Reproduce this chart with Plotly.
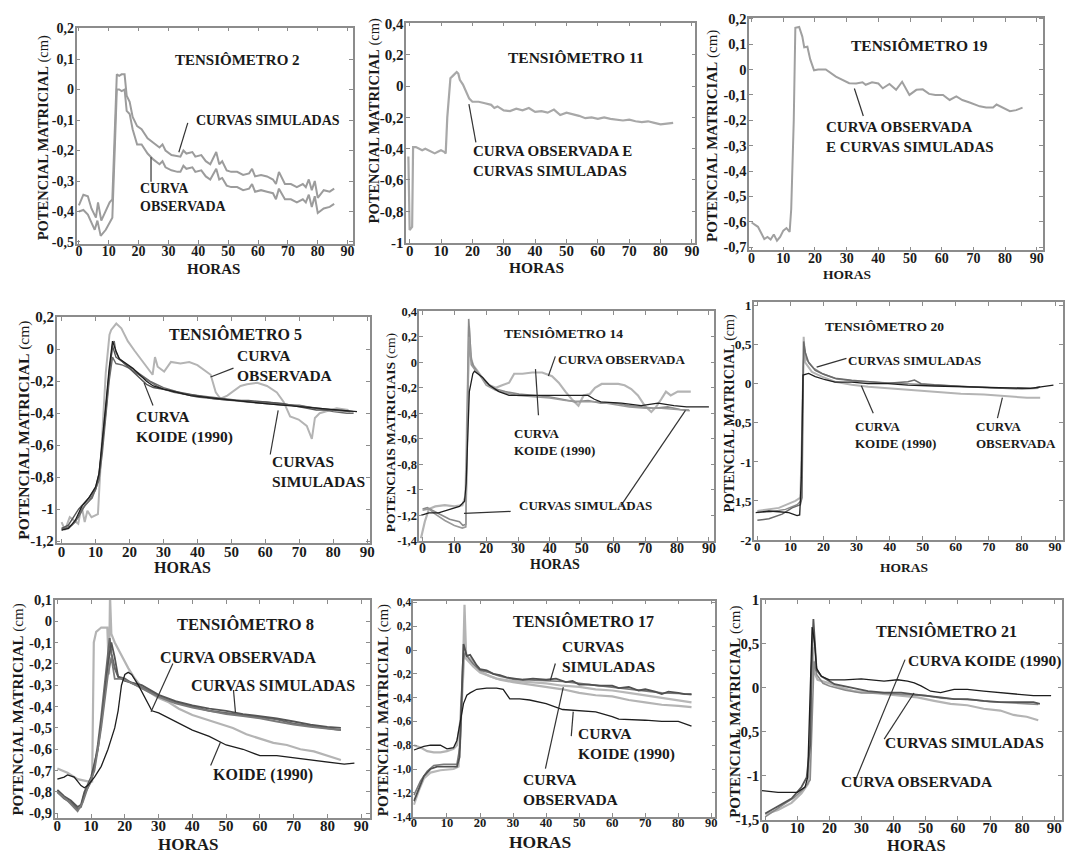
import plotly.graph_objects as go

W, H = 1070, 858
FONT = "Liberation Serif"
TXT = "#1a1a1a"

# ---------------- data (hours, potential) ----------------
X_TICKS = [0, 10, 20, 30, 40, 50, 60, 70, 80, 90]
X_LABELS = ["0", "10", "20", "30", "40", "50", "60", "70", "80", "90"]

# Tensiometro 2
T2_Y_TICKS = [0.2, 0.1, 0, -0.1, -0.2, -0.3, -0.4, -0.5]
T2_Y_LABELS = ["0,2", "0,1", "0", "-0,1", "-0,2", "-0,3", "-0,4", "-0,5"]
T2_SIM = [(0,-0.38),(1.5,-0.345),(3,-0.35),(4.2,-0.39),(5.7,-0.42),(6.4,-0.37),(7.5,-0.43),(9,-0.40),
          (10.3,-0.37),(11.2,-0.36),(12,-0.15),(12.7,0.05),(13.5,0.045),(14.3,0.05),(15.3,0.05),(16,-0.02),
          (17,-0.04),(18,-0.09),(19.5,-0.12),(21,-0.13),(23,-0.16),(25,-0.175),(27,-0.19),(28,-0.18),(29,-0.2),
          (31,-0.215),(33,-0.22),(34,-0.22),(35,-0.2),(36,-0.21),(38,-0.205),(39,-0.22),(41,-0.215),(42.5,-0.235),
          (44,-0.245),(46,-0.205),(47,-0.245),(48,-0.235),(49.5,-0.265),(51,-0.27),(53,-0.27),(55,-0.28),
          (57,-0.275),(58,-0.26),(59,-0.285),(61,-0.28),(63,-0.285),(65,-0.295),(66,-0.31),(67,-0.27),(69,-0.31),
          (71,-0.31),(73,-0.32),(75,-0.31),(76,-0.32),(77,-0.295),(78,-0.33),(79,-0.3),(80,-0.355),(82,-0.33),
          (84,-0.335),(85.5,-0.325)]
T2_OBS = [(0,-0.40),(1.5,-0.395),(3,-0.41),(4.5,-0.44),(5.3,-0.46),(6.2,-0.43),(7.3,-0.48),(9,-0.46),
          (10.5,-0.43),(11.2,-0.42),(12,-0.2),(12.7,0.0),(13.5,0.0),(14.3,-0.005),(15.3,0.0),(16,-0.07),(17,-0.08),
          (18,-0.13),(19.5,-0.18),(21,-0.18),(23,-0.21),(25,-0.23),(27,-0.245),(28,-0.235),(29,-0.255),(31,-0.265),
          (33,-0.27),(34,-0.27),(35,-0.25),(36,-0.26),(38,-0.255),(39,-0.27),(41,-0.265),(42.5,-0.285),(44,-0.295),
          (46,-0.26),(47,-0.295),(48,-0.29),(49.5,-0.315),(51,-0.32),(53,-0.32),(55,-0.33),(57,-0.325),(58,-0.31),
          (59,-0.335),(61,-0.33),(63,-0.335),(65,-0.34),(66,-0.36),(67,-0.325),(69,-0.36),(71,-0.36),(73,-0.37),
          (75,-0.36),(76,-0.37),(77,-0.345),(78,-0.385),(79,-0.35),(80,-0.405),(82,-0.39),(84,-0.385),(85.5,-0.375)]

# Tensiometro 11
T11_Y_TICKS = [0.4, 0.2, 0, -0.2, -0.4, -0.6, -0.8, -1]
T11_Y_LABELS = ["0,4", "0,2", "0", "-0,2", "-0,4", "-0,6", "-0,8", "-1"]
T11_OBS = [(-0.4,-0.45),(0,-0.92),(0.8,-0.90),(1.1,-0.39),(2,-0.39),(3,-0.40),(4,-0.41),(5,-0.40),(6,-0.41),
           (7,-0.42),(8,-0.43),(9,-0.42),(10,-0.41),(11,-0.42),(11.5,-0.43),(12,-0.2),(13,0.05),(14,0.07),
           (15,0.09),(15.5,0.08),(16,0.04),(17,0.01),(18,-0.03),(19,-0.08),(20,-0.10),(22,-0.10),(24,-0.11),
           (26,-0.12),(27,-0.14),(28,-0.13),(30,-0.155),(32,-0.16),(34,-0.145),(36,-0.155),(38,-0.14),(40,-0.165),
           (42,-0.16),(44,-0.17),(46,-0.15),(48,-0.185),(50,-0.17),(52,-0.18),(54,-0.19),(56,-0.205),(58,-0.20),
           (60,-0.21),(62,-0.20),(64,-0.21),(66,-0.215),(68,-0.22),(70,-0.215),(72,-0.225),(74,-0.23),(76,-0.225),
           (78,-0.235),(80,-0.245),(82,-0.24),(84,-0.235)]

# Tensiometro 19
T19_Y_TICKS = [0.2, 0.1, 0, -0.1, -0.2, -0.3, -0.4, -0.5, -0.6, -0.7]
T19_Y_LABELS = ["0,2", "0,1", "0", "-0,1", "-0,2", "-0,3", "-0,4", "-0,5", "-0,6", "-0,7"]
T19_OBS = [(0,-0.603),(2,-0.62),(4,-0.668),(5,-0.66),(6,-0.67),(7,-0.65),(8,-0.675),(9,-0.66),(10,-0.635),
           (11,-0.625),(12,-0.64),(12.5,-0.55),(13.3,-0.2),(13.8,0.165),(15,0.168),(16,0.13),(16.6,0.088),
           (17.6,0.09),(18.5,0.04),(19.7,-0.003),(21,0.0),(23.4,0.0),(26.6,-0.028),(28.7,-0.04),(30.8,-0.054),
           (33,-0.055),(35,-0.05),(36,-0.06),(38,-0.05),(40,-0.055),(41.4,-0.074),(43.5,-0.057),(45.6,-0.08),
           (47.5,-0.048),(49.8,-0.1),(52,-0.08),(54,-0.078),(56,-0.096),(58,-0.1),(60.4,-0.1),(62.5,-0.12),
           (64.6,-0.106),(66.5,-0.12),(68.8,-0.13),(72,-0.145),(74,-0.15),(76.2,-0.15),(77.3,-0.138),(79.4,-0.15),
           (81.5,-0.164),(83.5,-0.16),(85.5,-0.15)]

# Tensiometro 5
T5_Y_TICKS = [0.2, 0, -0.2, -0.4, -0.6, -0.8, -1, -1.2]
T5_Y_LABELS = ["0,2", "0", "-0,2", "-0,4", "-0,6", "-0,8", "-1", "-1,2"]
T5_OBS = [(0,-1.08),(1,-1.13),(2.4,-1.05),(4.9,-1.09),(5.9,-0.98),(6.8,-1.08),(7.6,-1.01),(8.8,-1.05),
          (10.7,-1.03),(11.2,-0.86),(12.2,-0.45),(13,-0.15),(14.1,0.09),(14.6,0.12),(16.1,0.16),(17.6,0.13),
          (19.5,0.05),(21.5,-0.01),(24.4,-0.09),(26.8,-0.16),(27.5,-0.05),(28.3,-0.11),(30.2,-0.14),(32.2,-0.08),
          (35,-0.09),(37.6,-0.08),(40,-0.10),(42.4,-0.14),(43.9,-0.16),(45.4,-0.27),(46.8,-0.31),(48.8,-0.29),
          (50.7,-0.26),(52.7,-0.23),(54.6,-0.22),(57.6,-0.21),(60.5,-0.23),(63.4,-0.27),(65.4,-0.33),(67.3,-0.42),
          (69.8,-0.44),(72.2,-0.48),(73.7,-0.56),(74.6,-0.43),(76,-0.40),(79,-0.38),(81,-0.37),(84.5,-0.38)]
T5_SIM_A = [(0,-1.12),(2,-1.12),(4,-1.08),(6,-1.0),(8,-0.95),(10,-0.88),(11,-0.8),(12,-0.62),(13,-0.4),
            (14,-0.17),(15,0.03),(15.5,0.05),(16,-0.02),(17,-0.06),(18,-0.08),(20,-0.11),(22,-0.14),(24,-0.17),
            (26,-0.2),(28,-0.22),(30,-0.24),(33,-0.26),(36,-0.28),(40,-0.29),(44,-0.3),(48,-0.31),(52,-0.32),
            (56,-0.33),(60,-0.33),(64,-0.34),(68,-0.35),(72,-0.36),(76,-0.37),(80,-0.38),(84,-0.385),(86,-0.39)]
T5_SIM_B = [(0,-1.13),(3,-1.1),(5,-1.05),(7,-0.97),(9,-0.93),(11,-0.82),(12,-0.65),(13,-0.42),(14,-0.2),
            (15,-0.05),(16,-0.09),(18,-0.1),(20,-0.12),(22,-0.15),(25,-0.19),(28,-0.23),(30,-0.25),(33,-0.27),
            (36,-0.28),(40,-0.3),(45,-0.31),(50,-0.32),(55,-0.33),(60,-0.34),(65,-0.35),(70,-0.35),(75,-0.37),
            (80,-0.39),(84,-0.40),(86,-0.40)]
T5_SIM_C = [(0,-1.12),(2,-1.1),(5,-1.0),(8,-0.93),(10,-0.87),(11,-0.78),(12,-0.6),(13,-0.38),(14,-0.15),
            (15,0.02),(16,-0.05),(18,-0.08),(20,-0.12),(23,-0.18),(25,-0.22),(27,-0.24),(30,-0.25),(35,-0.27),
            (40,-0.29),(45,-0.31),(50,-0.32),(55,-0.32),(60,-0.33),(65,-0.34),(70,-0.36),(75,-0.38),(80,-0.38),
            (85,-0.39)]
T5_KOIDE = [(0,-1.13),(2,-1.12),(4,-1.07),(6,-0.98),(8,-0.93),(10,-0.86),(11,-0.78),(12,-0.58),(13,-0.35),
            (14,-0.12),(15,0.05),(16,-0.01),(17,-0.06),(19,-0.09),(21,-0.12),(23,-0.16),(25,-0.2),(27,-0.23),
            (30,-0.25),(34,-0.27),(38,-0.29),(42,-0.3),(46,-0.31),(50,-0.32),(55,-0.33),(60,-0.34),(65,-0.35),
            (70,-0.36),(75,-0.37),(80,-0.38),(84,-0.385),(87,-0.39)]

# Tensiometro 14
T14_Y_TICKS = [0.4, 0.2, 0, -0.2, -0.4, -0.6, -0.8, -1, -1.2, -1.4]
T14_Y_LABELS = ["0,4", "0,2", "0", "-0,2", "-0,4", "-0,6", "-0,8", "-1", "-1,2", "-1,4"]
T14_OBS = [(-0.5,-1.38),(0.7,-1.25),(2,-1.15),(4,-1.13),(7,-1.12),(10,-1.13),(12.5,-1.12),(13.5,-1.05),
           (14.2,-0.2),(14.6,0.28),(15.1,0.05),(15.8,-0.02),(17,-0.06),(19,-0.13),(21,-0.18),(23,-0.2),
           (25,-0.18),(27.2,-0.16),(28.8,-0.09),(31.4,-0.09),(34.5,-0.08),(37.6,-0.08),(40.7,-0.11),(42.8,-0.16),
           (44.9,-0.23),(46.9,-0.29),(49,-0.34),(50.6,-0.26),(52.5,-0.25),(54.2,-0.2),(56.3,-0.17),(58.4,-0.17),
           (61.5,-0.17),(63.5,-0.18),(65.6,-0.21),(67.7,-0.26),(69.8,-0.34),(71.9,-0.39),(73.4,-0.35),(75,-0.29),
           (76.5,-0.23),(78,-0.26),(80.2,-0.23),(82.2,-0.23),(84.3,-0.23)]
T14_SIM_A = [(0,-1.15),(1.5,-1.14),(3,-1.16),(5.4,-1.19),(8.5,-1.23),(11.6,-1.25),(12.7,-1.28),(13.6,-1.27),
             (14.1,-0.4),(14.5,0.34),(15.3,0.02),(16,-0.03),(17.3,-0.08),(20,-0.16),(23,-0.21),(26,-0.23),
             (30.3,-0.25),(35,-0.26),(39.7,-0.27),(43.8,-0.29),(48,-0.31),(52,-0.30),(56,-0.32),(60.4,-0.32),
             (64.6,-0.34),(68.7,-0.35),(72.9,-0.36),(77,-0.35),(81,-0.37),(83.8,-0.375)]
T14_SIM_B = [(0,-1.16),(2,-1.15),(4,-1.19),(7,-1.24),(10,-1.28),(12.5,-1.30),(13.6,-1.29),(14.1,-0.6),
             (14.6,0.2),(15.3,-0.02),(16.5,-0.06),(18,-0.1),(20,-0.18),(23,-0.22),(26,-0.24),(30,-0.26),
             (35,-0.27),(40,-0.28),(45,-0.3),(50,-0.31),(55,-0.31),(60,-0.33),(65,-0.35),(70,-0.36),(75,-0.36),
             (80,-0.37),(84,-0.38)]
T14_KOIDE = [(-0.5,-1.2),(2,-1.18),(5,-1.18),(8,-1.16),(11.6,-1.13),(13.2,-1.09),(13.7,-0.95),(14.7,-0.23),
             (15.8,-0.09),(16.3,-0.07),(18.9,-0.12),(21,-0.18),(24,-0.23),(27.2,-0.26),(30.3,-0.26),(35.5,-0.26),
             (41.7,-0.26),(48,-0.26),(52,-0.26),(54,-0.29),(56,-0.31),(62.5,-0.32),(68.7,-0.34),(74,-0.32),
             (79,-0.34),(83,-0.35),(90,-0.35)]

# Tensiometro 20
T20_Y_TICKS = [1, 0.5, 0, -0.5, -1, -1.5, -2]
T20_Y_LABELS = ["1", "0,5", "0", "-0,5", "-1", "-1,5", "-2"]
T20_OBS = [(0,-1.63),(6.5,-1.59),(11.5,-1.5),(13,-1.46),(13.6,-0.5),(14,0.6),(14.5,0.27),(16.5,0.15),
           (19.5,0.09),(23.5,0.025),(28.5,-0.015),(33.5,-0.04),(39.5,-0.06),(45.5,-0.08),(53.5,-0.1),
           (61.5,-0.13),(68.5,-0.14),(75.5,-0.16),(81.5,-0.18),(85.5,-0.18)]
T20_SIM_A = [(0,-1.75),(3.5,-1.73),(7.5,-1.67),(10.5,-1.59),(13,-1.55),(13.5,-1.46),(14,0.54),(14.5,0.4),
             (15.5,0.27),(17.5,0.17),(19.5,0.13),(23.5,0.07),(28.5,0.045),(33.5,0.025),(39.5,0.005),
             (45.5,0.025),(47.5,0.045),(49.5,0.0),(53.5,-0.015),(63.5,-0.04),(73.5,-0.06),(83.5,-0.06),(85.5,-0.04)]
T20_SIM_B = [(0,-1.65),(4,-1.64),(8.5,-1.61),(12,-1.55),(13.2,-1.5),(13.8,0.2),(14.2,0.45),(15,0.3),
             (17,0.2),(20,0.12),(24,0.06),(30,0.03),(40,0.01),(50,-0.01),(60,-0.03),(70,-0.05),(80,-0.07),
             (85,-0.06)]
T20_KOIDE = [(-0.5,-1.65),(3.5,-1.63),(6.5,-1.64),(9.5,-1.65),(12,-1.69),(12.8,-1.68),(13.3,-1.2),
             (13.8,0.11),(15.5,0.13),(17.5,0.09),(20.5,0.05),(23.5,0.02),(28.5,0.02),(33.5,0.0),(39.5,0.0),
             (45.5,-0.02),(53.5,-0.03),(61.5,-0.04),(68.5,-0.05),(75.5,-0.06),(82.5,-0.06),(89.5,-0.02)]

# Tensiometro 8
T8_Y_TICKS = [0.1, 0, -0.1, -0.2, -0.3, -0.4, -0.5, -0.6, -0.7, -0.8, -0.9]
T8_Y_LABELS = ["0,1", "0", "-0,1", "-0,2", "-0,3", "-0,4", "-0,5", "-0,6", "-0,7", "-0,8", "-0,9"]
T8_OBS = [(0,-0.69),(3,-0.71),(6,-0.74),(9,-0.75),(10.3,-0.75),(10.8,-0.1),(11.5,-0.05),(13,-0.03),
          (14.8,-0.03),(15.3,-0.25),(15.6,0.12),(16,-0.06),(17,-0.1),(19,-0.16),(21,-0.22),(23,-0.27),
          (25,-0.31),(28,-0.34),(30,-0.36),(33,-0.38),(36,-0.41),(40,-0.44),(44,-0.46),(48,-0.48),(52,-0.5),
          (56,-0.53),(60,-0.55),(64,-0.57),(68,-0.58),(72,-0.6),(76,-0.61),(80,-0.63),(84,-0.65)]
T8_SIM_A = [(0,-0.8),(2,-0.83),(4,-0.85),(6,-0.88),(7,-0.87),(8,-0.81),(9,-0.78),(10,-0.75),(11,-0.68),
            (12,-0.58),(13,-0.45),(14,-0.3),(15,-0.15),(15.5,-0.08),(16,-0.15),(17,-0.22),(18,-0.26),(20,-0.27),
            (22,-0.29),(25,-0.31),(30,-0.35),(35,-0.38),(40,-0.4),(45,-0.42),(50,-0.43),(55,-0.44),(60,-0.45),
            (65,-0.46),(70,-0.48),(75,-0.49),(80,-0.5),(84,-0.51)]
T8_SIM_B = [(0,-0.79),(2,-0.82),(4,-0.84),(6,-0.87),(7,-0.86),(8,-0.8),(10,-0.73),(12,-0.6),(14,-0.35),
            (15,-0.2),(16,-0.1),(17,-0.17),(18,-0.26),(20,-0.28),(25,-0.3),(30,-0.345),(35,-0.375),(40,-0.395),
            (45,-0.41),(50,-0.42),(55,-0.435),(60,-0.445),(65,-0.455),(70,-0.47),(75,-0.485),(80,-0.495),(84,-0.5)]
T8_SIM_C = [(0,-0.8),(3,-0.84),(6,-0.89),(7.5,-0.85),(9,-0.78),(11,-0.7),(13,-0.5),(15,-0.25),(16,-0.17),
            (17,-0.27),(19,-0.27),(22,-0.29),(25,-0.315),(30,-0.355),(35,-0.385),(40,-0.405),(45,-0.42),
            (50,-0.435),(55,-0.445),(60,-0.455),(65,-0.47),(70,-0.485),(75,-0.495),(80,-0.505),(84,-0.51)]
T8_KOIDE = [(0,-0.74),(2,-0.73),(3,-0.72),(5,-0.73),(7,-0.77),(8,-0.78),(9,-0.77),(11,-0.73),(13,-0.68),
            (15,-0.6),(17,-0.5),(18,-0.42),(19,-0.3),(20,-0.25),(21,-0.24),(22,-0.25),(24,-0.3),(26,-0.36),
            (28,-0.42),(30,-0.43),(35,-0.47),(40,-0.51),(45,-0.54),(50,-0.58),(55,-0.6),(60,-0.63),(65,-0.63),
            (70,-0.64),(75,-0.65),(80,-0.66),(85,-0.67),(88,-0.665)]

# Tensiometro 17
T17_Y_TICKS = [0.4, 0.2, 0, -0.2, -0.4, -0.6, -0.8, -1.0, -1.2, -1.4]
T17_Y_LABELS = ["0,4", "0,2", "0", "-0,2", "-0,4", "-0,6", "-0,8", "-1,0", "-1,2", "-1,4"]
T17_OBS = [(0,-0.80),(2,-0.82),(4,-0.85),(6,-0.86),(8,-0.86),(10,-0.85),(12,-0.83),(13,-0.8),(14,-0.6),
           (14.8,-0.2),(15.3,0.38),(15.8,-0.05),(17,-0.07),(18,-0.11),(20,-0.18),(23,-0.22),(26,-0.25),
           (30,-0.27),(35,-0.29),(40,-0.31),(45,-0.33),(50,-0.36),(55,-0.38),(60,-0.39),(65,-0.42),(70,-0.44),
           (75,-0.46),(80,-0.47),(84,-0.48)]
T17_SIM_A = [(0,-1.27),(1,-1.2),(2,-1.12),(3,-1.06),(5,-1.0),(7,-0.98),(10,-0.98),(13,-0.98),(13.8,-0.9),
             (14.5,-0.3),(15,0.05),(15.5,0.0),(16,-0.05),(17,-0.04),(18,-0.09),(19,-0.13),(20,-0.16),(22,-0.17),
             (24,-0.2),(26,-0.21),(28,-0.23),(30,-0.24),(33,-0.25),(36,-0.24),(40,-0.25),(43,-0.24),(46,-0.27),
             (48,-0.26),(50,-0.29),(53,-0.29),(56,-0.3),(60,-0.3),(62,-0.32),(65,-0.31),(68,-0.34),(70,-0.33),
             (73,-0.35),(75,-0.37),(77,-0.35),(80,-0.36),(82,-0.37),(84,-0.37)]
T17_SIM_B = [(0,-1.22),(2,-1.1),(4,-1.02),(6,-0.97),(9,-0.96),(13,-0.96),(14,-0.8),(14.8,-0.1),(15.5,-0.02),
             (16.5,-0.07),(18,-0.12),(20,-0.17),(23,-0.19),(26,-0.22),(30,-0.245),(35,-0.25),(40,-0.255),
             (45,-0.265),(50,-0.28),(55,-0.295),(60,-0.31),(65,-0.325),(70,-0.34),(75,-0.36),(80,-0.365),(84,-0.375)]
T17_SIM_C = [(0,-1.3),(1.5,-1.18),(3,-1.08),(5,-1.03),(8,-1.01),(12,-1.0),(13.5,-0.98),(14.5,-0.4),
             (15.2,-0.05),(16,-0.08),(18,-0.14),(20,-0.19),(25,-0.24),(30,-0.26),(35,-0.27),(40,-0.28),
             (45,-0.3),(50,-0.31),(55,-0.33),(60,-0.34),(65,-0.36),(70,-0.38),(75,-0.4),(80,-0.42),(84,-0.44)]
T17_KOIDE = [(0,-0.84),(3,-0.81),(5,-0.8),(8,-0.8),(10,-0.83),(12,-0.82),(13,-0.76),(14,-0.6),(15,-0.45),
             (16,-0.38),(17,-0.36),(19,-0.33),(22,-0.32),(25,-0.32),(27,-0.33),(29,-0.41),(32,-0.41),(35,-0.42),
             (40,-0.45),(45,-0.5),(50,-0.51),(55,-0.52),(60,-0.56),(62,-0.58),(70,-0.59),(75,-0.6),(80,-0.6),
             (84,-0.64)]

# Tensiometro 21
T21_Y_TICKS = [1, 0.5, 0, -0.5, -1, -1.5]
T21_Y_LABELS = ["1", "0,5", "0", "-0,5", "-1", "-1,5"]
T21_OBS = [(0,-1.44),(4,-1.39),(8.2,-1.31),(11.3,-1.2),(13.4,-1.09),(14.2,-0.3),(14.7,0.46),(15.3,0.17),
           (16.3,0.09),(19.6,0.055),(23.7,0.0),(27.8,-0.04),(32,-0.055),(37,-0.075),(42.3,-0.09),(47.4,-0.11),
           (52.6,-0.15),(57.7,-0.185),(62.9,-0.2),(68,-0.24),(73.2,-0.26),(77.3,-0.31),(81.4,-0.33),(85,-0.37)]
T21_SIM = [(0,-1.43),(4,-1.35),(8.2,-1.26),(11.3,-1.13),(12.9,-1.02),(14,-0.65),(14.4,0.17),(15,0.78),
           (15.5,0.46),(16,0.2),(17.5,0.13),(19.5,0.09),(21.6,0.04),(26.8,0.0),(32,-0.04),(37,-0.055),
           (42.3,-0.055),(46.4,-0.075),(50.5,-0.09),(54.6,-0.11),(58.8,-0.13),(63,-0.13),(68,-0.15),
           (73.2,-0.165),(78.4,-0.165),(83.5,-0.165),(85.5,-0.185)]
T21_SIM_B = [(0,-1.47),(3,-1.4),(6,-1.32),(9,-1.25),(12,-1.15),(14,-1.05),(14.6,-0.3),(15.2,0.3),(16,0.15),
             (17,0.1),(18,0.05),(20,0.02),(25,-0.03),(30,-0.06),(35,-0.06),(40,-0.07),(45,-0.08),(50,-0.09),
             (55,-0.12),(60,-0.13),(65,-0.14),(70,-0.16),(75,-0.17),(80,-0.18),(85,-0.19)]
T21_KOIDE = [(-1,-1.17),(4,-1.19),(10,-1.19),(12.4,-1.13),(13.2,-1.02),(14,0.09),(14.6,0.69),(15.3,0.54),
             (16,0.22),(17.5,0.13),(20,0.09),(24.7,0.09),(29.9,0.1),(33,0.09),(37,0.075),(41.2,0.09),(44.3,0.075),
             (46.4,0.055),(48.5,0.02),(51.5,-0.04),(54.6,-0.055),(58.8,-0.02),(62.9,-0.02),(68,-0.04),
             (73.2,-0.055),(78.4,-0.075),(83.5,-0.09),(89,-0.09)]

# ---------------- styling / layout ----------------
C_OBS = "#b4b4b4"
C_SIM = "#6a6a6a"
C_KOI = "#1e1e1e"
C_MID = "#9c9c9c"
C_FRAME = "#8c8c8c"

PANELS = [
    dict(box=(75, 20, 353, 240), xr=[-0.8, 91.7], yr=[-0.505, 0.203], yt=T2_Y_TICKS, yl=T2_Y_LABELS, fy=14, fx=14,
         curves=[(T2_SIM, C_MID, 2.0), (T2_OBS, C_MID, 2.0)]),
    dict(box=(407, 15, 698, 239), xr=[-1.05, 91.1], yr=[-1.0, 0.405], yt=T11_Y_TICKS, yl=T11_Y_LABELS, fy=15, fx=15,
         curves=[(T11_OBS, "#a8a8a8", 2.2)]),
    dict(box=(752, 10, 1048, 247), xr=[-0.8, 92.0], yr=[-0.713, 0.204], yt=T19_Y_TICKS, yl=T19_Y_LABELS, fy=14.5, fx=14,
         curves=[(T19_OBS, "#a0a0a0", 2.0)]),
    dict(box=(55, 315, 370, 545), xr=[-1.46, 90.7], yr=[-1.21, 0.2], yt=T5_Y_TICKS, yl=T5_Y_LABELS, fy=15, fx=15,
         curves=[(T5_OBS, C_OBS, 2.0), (T5_SIM_A, C_SIM, 1.4), (T5_SIM_B, C_SIM, 1.4), (T5_SIM_C, "#555555", 1.4),
                 (T5_KOIDE, C_KOI, 1.3)]),
    dict(box=(420, 309, 717, 543), xr=[-1.04, 91.7], yr=[-1.4, 0.4], yt=T14_Y_TICKS, yl=T14_Y_LABELS, fy=12.5, fx=14,
         curves=[(T14_OBS, C_OBS, 2.2), (T14_SIM_A, "#8a8a8a", 1.6), (T14_SIM_B, "#9a9a9a", 1.6),
                 (T14_KOIDE, C_KOI, 1.3)]),
    dict(box=(757, 300, 1068, 542), xr=[-1.0, 92.4], yr=[-2.0, 1.04], yt=T20_Y_TICKS, yl=T20_Y_LABELS, fy=13.5, fx=13,
         curves=[(T20_OBS, C_OBS, 2.0), (T20_SIM_B, "#8a8a8a", 1.4), (T20_SIM_A, C_SIM, 1.5),
                 (T20_KOIDE, C_KOI, 1.3)]),
    dict(box=(53, 603, 370, 825), xr=[-0.8, 92.5], yr=[-0.92, 0.1], yt=T8_Y_TICKS, yl=T8_Y_LABELS, fy=14.5, fx=15,
         curves=[(T8_OBS, C_OBS, 2.2), (T8_SIM_A, C_SIM, 2.0), (T8_SIM_B, "#555555", 1.8), (T8_SIM_C, "#7a7a7a", 1.8),
                 (T8_KOIDE, C_KOI, 1.3)]),
    dict(box=(414, 604, 718, 824), xr=[-0.2, 91.2], yr=[-1.4, 0.414], yt=T17_Y_TICKS, yl=T17_Y_LABELS, fy=11.5, fx=12.5,
         curves=[(T17_SIM_C, "#b8b8b8", 2.2), (T17_OBS, C_OBS, 2.2), (T17_SIM_B, "#7a7a7a", 1.6),
                 (T17_SIM_A, "#505050", 1.8), (T17_KOIDE, C_KOI, 1.3)]),
    dict(box=(765, 603, 1067, 827), xr=[-1.0, 92.4], yr=[-1.5, 1.0], yt=T21_Y_TICKS, yl=T21_Y_LABELS, fy=15, fx=15,
         curves=[(T21_OBS, C_OBS, 2.2), (T21_SIM_B, "#8a8a8a", 1.6), (T21_SIM, "#555555", 1.8),
                 (T21_KOIDE, C_KOI, 1.3)]),
]

LABELS = [
    ("TENSIÔMETRO 2", 237, 53, 15, "center"),
    ("CURVAS SIMULADAS", 193, 115, 14, "left"),
    ("CURVA<br>OBSERVADA", 137, 193, 14, "left"),
    ("TENSIÔMETRO 11", 578, 50, 15.5, "center"),
    ("CURVA OBSERVADA E<br>CURVAS SIMULADAS", 472, 156, 15, "left"),
    ("TENSIÔMETRO 19", 924, 38, 15.5, "center"),
    ("CURVA OBSERVADA<br>E CURVAS SIMULADAS", 827, 131, 15, "left"),
    ("TENSIÔMETRO 5", 235, 332, 16, "center"),
    ("CURVA<br>OBSERVADA", 235, 364, 15.5, "left"),
    ("CURVA<br>KOIDE (1990)", 133, 427, 15.5, "left"),
    ("CURVAS<br>SIMULADAS", 270, 472, 15.5, "left"),
    ("TENSIÔMETRO 14", 565, 332, 13.5, "center"),
    ("CURVA OBSERVADA", 558, 358, 13, "left"),
    ("CURVA<br>KOIDE (1990)", 513, 442, 13, "left"),
    ("CURVAS SIMULADAS", 518, 507, 13, "left"),
    ("TENSIÔMETRO 20", 888, 325, 13.5, "center"),
    ("CURVAS SIMULADAS", 850, 359, 13, "left"),
    ("CURVA<br>KOIDE (1990)", 857, 435, 13, "left"),
    ("CURVA<br>OBSERVADA", 978, 435, 13, "left"),
    ("TENSIÔMETRO 8", 245, 628, 16.5, "center"),
    ("CURVA OBSERVADA", 157, 662, 16, "left"),
    ("CURVAS SIMULADAS", 188, 690, 16, "left"),
    ("KOIDE (1990)", 210, 782, 16, "left"),
    ("TENSIÔMETRO 17", 585, 625, 16, "center"),
    ("CURVAS<br>SIMULADAS", 562, 661, 15.5, "left"),
    ("CURVA<br>KOIDE (1990)", 578, 750, 15.5, "left"),
    ("CURVA<br>OBSERVADA", 522, 796, 15.5, "left"),
    ("TENSIÔMETRO 21", 951, 635, 16, "center"),
    ("CURVA KOIDE (1990)", 910, 665, 15.5, "left"),
    ("CURVAS SIMULADAS", 887, 748, 15.5, "left"),
    ("CURVA OBSERVADA", 843, 788, 15.5, "left"),
]
AXIS_TITLES_Y = [
    ("POTENCIAL MATRICIAL", 42, 132, 14.5), ("POTENCIAL MATRICIAL", 375, 115, 14.5),
    ("POTENCIAL MATRICIAL", 715, 130, 15), ("POTENCIAL MATRICIAL", 22, 430, 15.5),
    ("POTENCIAIS MATRICIAIS", 391, 433, 13.5), ("POTENCIAL MATRICIAL", 733, 413, 14),
    ("POTENCIAL MATRICIAL", 17, 715, 15), ("POTENCIAL MATRICIAL", 384, 715, 15),
    ("POTENCIAL MATRICIAL", 738, 717, 15),
]
AXIS_TITLES_X = [(213, 266, 15), (538, 264, 15.5), (851, 272, 13.5), (182, 570, 16), (557, 567, 14),
                 (908, 570, 13.5), (187, 852, 17), (542, 850, 17.5), (921, 853, 16.5)]
LEADERS = [
    (187, 117, 178, 147), (150, 152, 150, 177),
    (470, 98, 477, 137),
    (858, 82, 867, 110),
    (233, 367, 210, 376), (152, 405, 143, 382), (270, 455, 278, 410),
    (557, 355, 550, 375), (537, 368, 540, 415), (465, 515, 512, 513), (623, 507, 688, 410),
    (850, 357, 820, 366), (877, 413, 865, 385), (1002, 418, 1007, 397),
    (172, 668, 150, 717), (233, 695, 235, 718), (210, 772, 220, 748),
    (557, 668, 552, 685), (573, 742, 575, 717), (547, 775, 565, 692),
    (909, 664, 859, 787), (918, 698, 888, 745),
]


def px(x):
    return x / W


def py(y):
    return 1 - y / H


fig = go.Figure()
layout = dict(width=W, height=H, margin=dict(l=0, r=0, t=0, b=0), paper_bgcolor="white",
              plot_bgcolor="white", showlegend=False, font=dict(family=FONT, color=TXT))

for i, p in enumerate(PANELS, start=1):
    s = "" if i == 1 else str(i)
    L, T, R, B = p["box"]
    for pts, col, wid in p["curves"]:
        fig.add_trace(go.Scatter(x=[a for a, b in pts], y=[b for a, b in pts], mode="lines",
                                 line=dict(color=col, width=wid), xaxis="x" + s, yaxis="y" + s,
                                 hoverinfo="skip"))
    common = dict(showline=True, linecolor=C_FRAME, linewidth=1.5, mirror="ticks", ticks="inside",
                  ticklen=4, tickcolor=C_FRAME, tickwidth=1, showgrid=False, zeroline=False, fixedrange=True)
    layout["xaxis" + s] = dict(domain=[px(L), px(R)], range=p["xr"], anchor="y" + s, tickmode="array",
                               tickvals=X_TICKS, ticktext=["<b>" + t + "</b>" for t in X_LABELS],
                               ticklabelstandoff=-6,
                               tickfont=dict(family=FONT, size=p["fx"], color=TXT), **common)
    layout["yaxis" + s] = dict(domain=[py(B), py(T)], range=p["yr"], anchor="x" + s, tickmode="array",
                               tickvals=p["yt"], ticktext=["<b>" + t + "</b>" for t in p["yl"]],
                               ticklabelstandoff=-2,
                               tickfont=dict(family=FONT, size=p["fy"], color=TXT), **common)

ann = []
for text, x, y, size, anchor in LABELS:
    ann.append(dict(text="<b>" + text.replace("<br>", "</b><br><b>") + "</b>", x=px(x), y=py(y),
                    xref="paper", yref="paper", showarrow=False,
                    xanchor=anchor, yanchor="middle", align="left",
                    font=dict(family=FONT, size=size, color=TXT)))
for text, x, y, size in AXIS_TITLES_Y:
    ann.append(dict(text="<b>" + text + "</b> (cm)", x=px(x), y=py(y), xref="paper", yref="paper",
                    showarrow=False, textangle=-90, xanchor="center", yanchor="middle",
                    font=dict(family=FONT, size=size, color=TXT)))
for x, y, size in AXIS_TITLES_X:
    ann.append(dict(text="<b>HORAS</b>", x=px(x), y=py(y), xref="paper", yref="paper", showarrow=False,
                    xanchor="center", yanchor="middle", font=dict(family=FONT, size=size, color=TXT)))
layout["annotations"] = ann
layout["shapes"] = [dict(type="line", xref="paper", yref="paper", x0=px(a), y0=py(b), x1=px(c), y1=py(d),
                         line=dict(color="#333333", width=1.2)) for a, b, c, d in LEADERS]

fig.update_layout(**layout)
fig.write_html("out.html", config={"displayModeBar": False},
               post_script="document.body.style.margin='0';document.body.style.overflow='hidden';")
